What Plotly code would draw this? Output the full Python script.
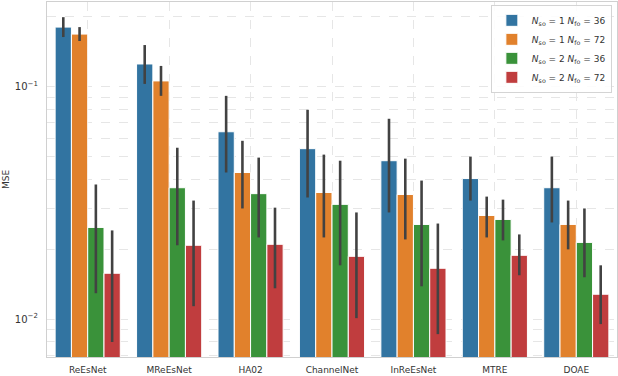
import plotly.graph_objects as go

# models on the x axis
models = ["ReEsNet", "MReEsNet", "HA02", "ChannelNet", "InReEsNet", "MTRE", "DOAE"]

series_names = [
    "<i>N</i><sub>so</sub> = 1 <i>N</i><sub>fo</sub> = 36",
    "<i>N</i><sub>so</sub> = 1 <i>N</i><sub>fo</sub> = 72",
    "<i>N</i><sub>so</sub> = 2 <i>N</i><sub>fo</sub> = 36",
    "<i>N</i><sub>so</sub> = 2 <i>N</i><sub>fo</sub> = 72",
]
colors = ["#3274A1", "#E1812C", "#3A923A", "#C03D3E"]

# mean MSE per model, one list per series
mse_so1_fo36 = [0.1809, 0.1255, 0.0641, 0.0542, 0.0481, 0.0403, 0.0368]
mse_so1_fo72 = [0.1688, 0.1061, 0.0428, 0.0351, 0.0344, 0.02795, 0.02557]
mse_so2_fo36 = [0.02482, 0.0368, 0.0347, 0.0312, 0.02557, 0.02687, 0.0214]
mse_so2_fo72 = [0.01576, 0.0208, 0.0210, 0.01864, 0.01656, 0.01883, 0.0128]

# confidence interval ends
hi_so1_fo36 = [0.1996, 0.1514, 0.0915, 0.0797, 0.0729, 0.0501, 0.0501]
lo_so1_fo36 = [0.1639, 0.1030, 0.0428, 0.0334, 0.0288, 0.0324, 0.02608]
hi_so1_fo72 = [0.1809, 0.1231, 0.0586, 0.0511, 0.0491, 0.0337, 0.0324]
lo_so1_fo72 = [0.1576, 0.0915, 0.02996, 0.02248, 0.02204, 0.02248, 0.01997]
hi_so2_fo36 = [0.0380, 0.0547, 0.0496, 0.0481, 0.0395, 0.0327, 0.02996]
lo_so2_fo36 = [0.01293, 0.0208, 0.02248, 0.01705, 0.01385, 0.02183, 0.01515]
hi_so2_fo72 = [0.0241, 0.0324, 0.0302, 0.0288, 0.0258, 0.02316, 0.01705]
lo_so2_fo72 = [0.00797, 0.01137, 0.01358, 0.0101, 0.00862, 0.01545, 0.00952]

means = [mse_so1_fo36, mse_so1_fo72, mse_so2_fo36, mse_so2_fo72]
highs = [hi_so1_fo36, hi_so1_fo72, hi_so2_fo36, hi_so2_fo72]
lows = [lo_so1_fo36, lo_so1_fo72, lo_so2_fo36, lo_so2_fo72]

fig = go.Figure()
for name, color, m, hi, lo in zip(series_names, colors, means, highs, lows):
    fig.add_trace(go.Bar(
        x=models,
        y=m,
        name=name,
        marker=dict(color=color, line=dict(color="white", width=1)),
        error_y=dict(
            type="data",
            symmetric=False,
            array=[h - v for h, v in zip(hi, m)],
            arrayminus=[v - l for v, l in zip(m, lo)],
            color="#424242",
            thickness=2.6,
            width=0,
        ),
    ))

minor_vals = [0.007, 0.008, 0.009] + [k / 100 for k in range(2, 10)] + [0.2]

fig.update_layout(
    width=618,
    height=376,
    margin=dict(l=47, r=1, t=2, b=19),
    paper_bgcolor="white",
    plot_bgcolor="white",
    barmode="group",
    bargap=0.2,
    bargroupgap=0,
    font=dict(family="DejaVu Sans", size=9, color="#333333"),
    legend=dict(
        x=0.991, y=0.992, xanchor="right", yanchor="top",
        bgcolor="rgba(255,255,255,0.85)",
        bordercolor="#d4d4d4", borderwidth=1,
        font=dict(size=9),
        itemwidth=30,
        tracegroupgap=1,
    ),
    showlegend=True,
)

fig.update_xaxes(
    showgrid=True, gridcolor="#e6e6e6", griddash="dash", gridwidth=1,
    showline=True, linecolor="#d0d0d0", linewidth=1.2, mirror=True,
    ticks="", tickfont=dict(size=9), ticklabelstandoff=4,
)
fig.update_yaxes(
    type="log",
    range=[-2.163, -0.6345],
    tickvals=[0.01, 0.1],
    ticktext=["10<sup>−2</sup>", "10<sup>−1</sup>"],
    showgrid=True, gridcolor="#e6e6e6", griddash="dash", gridwidth=1,
    minor=dict(tickvals=minor_vals, showgrid=True, gridcolor="#e6e6e6",
               griddash="dash", ticks=""),
    showline=True, linecolor="#d0d0d0", linewidth=1.2, mirror=True,
    ticks="", zeroline=False,
    title=dict(text="MSE", font=dict(size=9), standoff=3),
    tickfont=dict(size=10), ticklabelstandoff=6,
)

# page has a default body margin; drop it so the figure sits at the corner
fig.write_html(
    "out.html",
    config={"displayModeBar": False},
    post_script="document.body.style.margin='0';",
)
